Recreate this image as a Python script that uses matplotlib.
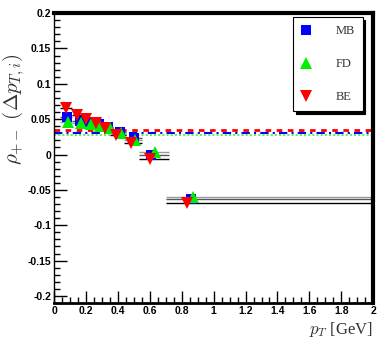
import matplotlib
matplotlib.use("Agg")
import matplotlib.pyplot as plt
from matplotlib.ticker import MultipleLocator
from matplotlib.lines import Line2D

plt.rcParams['mathtext.fontset'] = 'cm'

# data
mb_x = [0.08, 0.16, 0.22, 0.28, 0.34, 0.41, 0.50, 0.61, 0.86]
mb_y = [0.053, 0.047, 0.046, 0.043, 0.039, 0.032, 0.023, -0.001, -0.063]
fd_x = [0.09, 0.17, 0.23, 0.29, 0.35, 0.42, 0.51, 0.63, 0.87]
fd_y = [0.046, 0.044, 0.043, 0.041, 0.037, 0.030, 0.020, 0.003, -0.060]
be_x = [0.075, 0.145, 0.20, 0.26, 0.32, 0.39, 0.48, 0.60, 0.83]
be_y = [0.066, 0.056, 0.050, 0.044, 0.038, 0.027, 0.016, -0.007, -0.068]
# bin edges used as horizontal error bars
bin_lo = [0.04, 0.11, 0.17, 0.23, 0.29, 0.35, 0.44, 0.53, 0.70]
bin_hi = [0.11, 0.19, 0.25, 0.31, 0.37, 0.45, 0.55, 0.72, 2.00]
# integrated values (horizontal lines)
mb_avg = 0.031
fd_avg = 0.027
be_avg = 0.034

fig = plt.figure(figsize=(3.92, 3.54), dpi=100)
ax = fig.add_axes([0.138, 0.144, 0.814, 0.819])

def xerrs(xs):
    lo = [max(x - l, 0) for x, l in zip(xs, bin_lo)]
    hi = [max(h - x, 0) for x, h in zip(xs, bin_hi)]
    return [lo, hi]

ax.axhline(be_avg, color='red', ls=(0, (2, 2)), lw=2)
ax.axhline(mb_avg, color='blue', ls=(0, (4, 2, 1, 2)), lw=1.5)
ax.axhline(fd_avg, color='#66ee66', ls=(0, (1, 1)), lw=1.5)

ax.errorbar(mb_x, mb_y, xerr=xerrs(mb_x), fmt='s', color='blue', ecolor='#555555',
            elinewidth=1, ms=7, mew=0)
ax.errorbar(fd_x, fd_y, xerr=xerrs(fd_x), fmt='^', color='#00ee00', ecolor='#999999',
            elinewidth=1, ms=9, mew=0)
ax.errorbar(be_x, be_y, xerr=xerrs(be_x), fmt='v', color='red', ecolor='black',
            elinewidth=1, ms=9, mew=0)

ax.set_xlim(0, 2)
ax.set_ylim(-0.21, 0.2)
ax.xaxis.set_minor_locator(MultipleLocator(0.05))
ax.yaxis.set_minor_locator(MultipleLocator(0.01))
ax.tick_params(which='both', direction='in', top=False, right=False, pad=2)
ax.tick_params(which='major', length=9, width=1)
ax.tick_params(which='minor', length=4, width=1)
ax.set_xticks([0, 0.2, 0.4, 0.6, 0.8, 1, 1.2, 1.4, 1.6, 1.8, 2])
ax.set_xticklabels(['0', '0.2', '0.4', '0.6', '0.8', '1', '1.2', '1.4', '1.6', '1.8', '2'])
ax.set_yticks([0.2, 0.15, 0.1, 0.05, 0, -0.05, -0.1, -0.15, -0.2])
ax.set_yticklabels(['0.2', '0.15', '0.1', '0.05', '0', '-0.05', '-0.1', '-0.15', '-0.2'])
for lab in ax.get_xticklabels() + ax.get_yticklabels():
    lab.set_fontfamily('Liberation Sans')
    lab.set_fontweight('bold')
    lab.set_fontsize(7.5)
ax.spines['top'].set_linewidth(3)
ax.spines['right'].set_linewidth(3)
ax.spines['left'].set_linewidth(1)
ax.spines['bottom'].set_linewidth(2)

handles = [Line2D([], [], ls='none', marker='s', color='blue', ms=7, mew=0),
           Line2D([], [], ls='none', marker='^', color='#00ee00', ms=9, mew=0),
           Line2D([], [], ls='none', marker='v', color='red', ms=9, mew=0)]
leg = ax.legend(handles, ['MB', 'FD', 'BE'], loc='upper left',
                bbox_to_anchor=(0.75, 0.985), borderaxespad=0, frameon=True,
                fancybox=False, shadow={'color': 'black', 'alpha': 1},
                edgecolor='black', borderpad=0.6, labelspacing=1.7,
                handlelength=0.8, handletextpad=2.0,
                prop={'family': 'Liberation Serif', 'size': 9})
leg.get_frame().set_linewidth(0.8)
for t in leg.get_texts():
    t.set_color('#333333')

fig.text(0.952, 0.068, r'$p_T$ [GeV]', ha='right', va='center',
         fontsize=12, family='Liberation Serif', color='#333333')
fig.text(0.035, 0.69, r'$\rho_{+-}\ (\Delta p_{T,i})$', rotation=90,
         ha='center', va='center', fontsize=15, color='#333333')

fig.savefig('out.png', dpi=100)
